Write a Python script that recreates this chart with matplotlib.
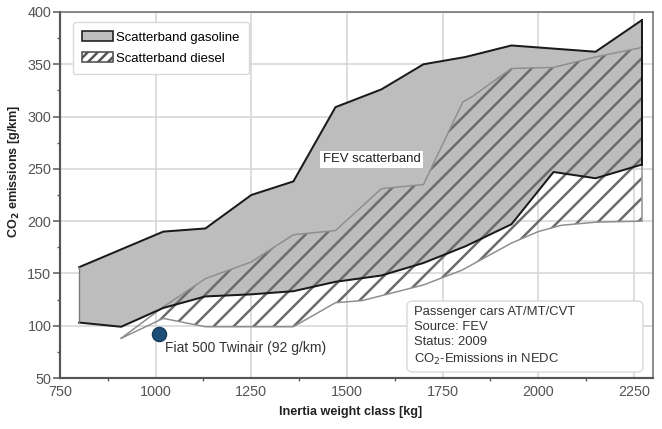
import matplotlib
matplotlib.use("Agg")
import matplotlib.pyplot as plt
import matplotlib.patches as mpatches
from matplotlib.ticker import MultipleLocator

plt.rcParams['font.family'] = ['Liberation Sans', 'DejaVu Sans']
plt.rcParams['hatch.linewidth'] = 1.5

# Gasoline scatterband
gas_x = [800, 910, 1020, 1130, 1250, 1360, 1470, 1590, 1700, 1810, 1930, 2040, 2150, 2270]
gas_upper = [156, 173, 190, 193, 225, 238, 309, 326, 350, 357, 368, 365, 362, 392]
gas_lower = [103, 99, 117, 128, 130, 133, 142, 148, 160, 176, 197, 247, 241, 254]

# Diesel scatterband
dsl_upper_x = [910, 1020, 1130, 1250, 1360, 1470, 1590, 1700, 1756, 1803, 1827, 1930, 2040, 2150, 2270]
dsl_upper = [88, 118, 145, 161, 187, 191, 231, 235, 278, 314, 319, 346, 347, 357, 366]
dsl_lower_x = [910, 1020, 1130, 1360, 1470, 1540, 1700, 1800, 1930, 2000, 2060, 2150, 2270]
dsl_lower = [88, 107, 99, 99, 122, 124, 139, 153, 179, 190, 196, 199, 200]

# Fiat point
fiat_x = [1010]
fiat_y = [92]

info_lines = ["Passenger cars AT/MT/CVT", "Source: FEV", "Status: 2009", "CO$_2$-Emissions in NEDC"]

W, H = 662, 429
dpi = 120
fig = plt.figure(figsize=(W / dpi, H / dpi), dpi=dpi)
ax_l, ax_r, ax_t, ax_b = 60, 653, 12, 378
ax = fig.add_axes([ax_l / W, (H - ax_b) / H, (ax_r - ax_l) / W, (ax_b - ax_t) / H])
aw, ah = ax_r - ax_l, ax_b - ax_t

ax.set_xlim(750, 2300)
ax.set_ylim(50, 400)
ax.xaxis.set_major_locator(MultipleLocator(250))
ax.xaxis.set_minor_locator(MultipleLocator(125))
ax.yaxis.set_major_locator(MultipleLocator(50))
ax.yaxis.set_minor_locator(MultipleLocator(25))
ax.grid(True, which='major', color='#d4d4d4', lw=0.9, zorder=0)
ax.set_axisbelow(True)

ax.tick_params(axis='y', which='major', direction='out', length=4.2, width=0.9, color='#555555',
               labelsize=8.6, labelcolor='#555555', pad=1)
ax.tick_params(axis='y', which='minor', direction='out', length=1.8, width=0.8, color='#555555')
ax.tick_params(axis='x', which='major', direction='out', length=0, width=0.9, color='#555555',
               labelsize=8.6, labelcolor='#555555', pad=4)
ax.tick_params(axis='x', which='minor', direction='out', length=1.8, width=0.8, color='#555555')
for s in ax.spines.values():
    s.set_color('#6a6a6a')
    s.set_linewidth(0.9)
ax.spines['left'].set_color('#555555')
ax.spines['bottom'].set_color('#555555')
ax.spines['left'].set_linewidth(1.3)
ax.spines['bottom'].set_linewidth(1.3)

# gasoline band
gx = gas_x + gas_x[::-1]
gy = gas_upper + gas_lower[::-1]
ax.fill(gx, gy, facecolor='#bdbdbd', edgecolor='none', zorder=2)

# diesel band (hatch)
dx = dsl_upper_x + dsl_lower_x[::-1]
dy = dsl_upper + dsl_lower[::-1]
ax.fill(dx, dy, facecolor='none', edgecolor='#6c6c6c', lw=0, hatch='//', zorder=3)
ax.plot(dsl_upper_x, dsl_upper, color='#8e8e8e', lw=0.9, zorder=4)
ax.plot(dsl_lower_x, dsl_lower, color='#8e8e8e', lw=0.9, zorder=4)
ax.plot([dsl_upper_x[-1], dsl_lower_x[-1]], [dsl_upper[-1], dsl_lower[-1]], color='#8e8e8e', lw=0.9, zorder=4)

# gasoline outline
ax.plot(gas_x, gas_upper, color='#1a1a1a', lw=1.2, zorder=5)
ax.plot(gas_x, gas_lower, color='#1a1a1a', lw=1.2, zorder=5)
ax.plot([gas_x[0], gas_x[0]], [gas_lower[0], gas_upper[0]], color='#7a7a7a', lw=0.8, zorder=5)
ax.plot([gas_x[-1], gas_x[-1]], [gas_lower[-1], gas_upper[-1]], color='#1a1a1a', lw=1.2, zorder=5)

# Fiat point
ax.plot(fiat_x, fiat_y, 'o', ms=8.5, mfc='#1d4e77', mec='#163a5a', mew=0.8, zorder=6)
ax.text(1024, 78.7, "Fiat 500 Twinair (92 g/km)", fontsize=8.3, color='#333333',
        va='center', ha='left', zorder=6)

ax.text(1565, 259, "FEV scatterband", fontsize=7.9, color='#222222', ha='center', va='center',
        bbox=dict(facecolor='white', edgecolor='none', pad=1.5), zorder=6)

# info box
box = mpatches.FancyBboxPatch(((407 - ax_l) / aw, (ax_b - 372) / ah), 236 / aw, 71 / ah,
                              boxstyle='round,pad=0,rounding_size=0.012',
                              transform=ax.transAxes, facecolor='white', edgecolor='#d8d8d8',
                              lw=0.8, zorder=7)
ax.add_patch(box)
ax.text((414 - ax_l) / aw, (ax_b - 306) / ah, "\n".join(info_lines), transform=ax.transAxes,
        fontsize=7.8, color='#333333', ha='left', va='top', linespacing=1.33, zorder=8)

handles = [mpatches.Patch(facecolor='#bdbdbd', edgecolor='#222222', lw=1.0, label='Scatterband gasoline'),
           mpatches.Patch(facecolor='white', edgecolor='#555555', lw=1.0, hatch='////', label='Scatterband diesel')]
leg = ax.legend(handles=handles, loc='upper left', bbox_to_anchor=(13 / aw, 1 - 10 / ah),
                borderaxespad=0, fontsize=7.9, frameon=True, fancybox=True,
                edgecolor='#d8d8d8', framealpha=1, handlelength=2.3,
                handleheight=0.8, handletextpad=0.3, labelspacing=0.65, borderpad=0.7)
leg.get_frame().set_linewidth(0.8)
leg.set_zorder(9)

ax.set_xlabel("Inertia weight class [kg]", fontsize=7.6, fontweight='bold', color='#222222')
ax.set_ylabel("CO$_\\mathbf{2}$ emissions [g/km]", fontsize=7.6, fontweight='bold', color='#222222')
ax.xaxis.set_label_coords((351 - ax_l) / aw, (ax_b - 412) / ah)
ax.xaxis.label.set_va('center')
ax.yaxis.set_label_coords((14 - ax_l) / aw, (ax_b - 171) / ah)
ax.yaxis.label.set_va('center')

fig.savefig("out.png", dpi=dpi)
